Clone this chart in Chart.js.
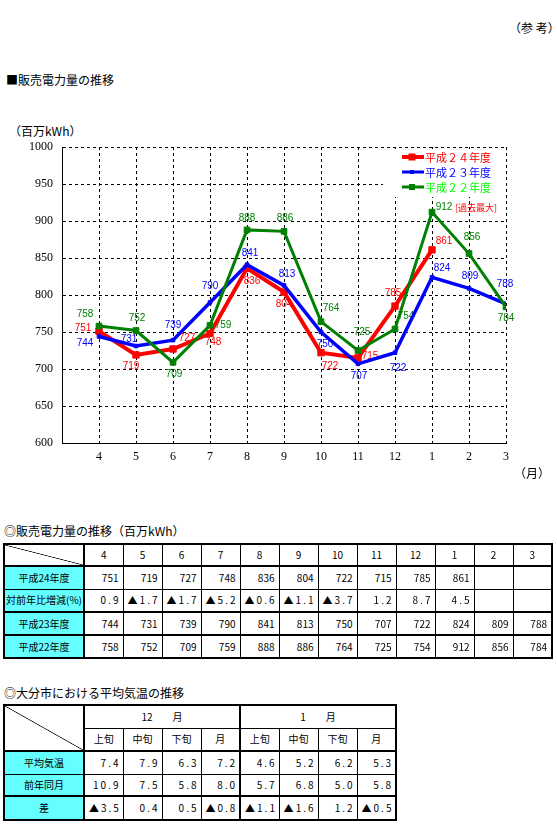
<!DOCTYPE html>
<html lang="ja">
<head>
<meta charset="UTF-8">
<meta name="viewport" content="width=device-width, initial-scale=1.0">
<title>販売電力量の推移</title>
<script src="https://cdn.jsdelivr.net/npm/chart.js"></script>
<style>
    body { margin: 0; background: #fff; }
    #page { position: relative; width: 557px; height: 830px; overflow: hidden; font-family: "Noto Sans CJK JP", sans-serif; color: #000; }
    .txt { position: absolute; font-size: 12px; line-height: 14px; white-space: nowrap; }
    #chartBox { position: absolute; left: 0; top: 120px; }
    table { position: absolute; left: 3px; border-collapse: collapse; table-layout: fixed; font-size: 10px; border: 2px solid #000; }
    td { border: 1px solid #000; padding: 0 4px 0 2px; text-align: right; white-space: nowrap; overflow: hidden; line-height: 12px; }
    td.lbl { background: #66ffff; text-align: center; padding: 0; border-right: 2px solid #000; }
    td.hd { text-align: center; padding: 0; }
    td.diag { padding: 0; border-right: 2px solid #000;
        background: linear-gradient(to top right, transparent calc(50% - 0.7px), #000 50%, transparent calc(50% + 0.7px)); }
    td.sep { border-right: 2px solid #000; }
    .tri { float: left; padding-left: 2px; }
    .dec { letter-spacing: 2px; padding-right: 2px; }
    tr.thick td { border-top: 2px solid #000; }
</style>
</head>
<body>
<div id="page">
    <div class="txt" style="left:509px; top:21px;">（参 考）</div>
    <div class="txt" style="left:6px; top:73px;">■販売電力量の推移</div>
    <div class="txt" style="left:9px; top:124px;">（百万kWh）</div>
    <canvas id="salesChart" width="557" height="370" style="position:absolute; left:0; top:120px;"></canvas>
    <div class="txt" style="left:514px; top:466px;">（月）</div>

    <div class="txt" style="left:4px; top:524px;">◎販売電力量の推移（百万kWh）</div>
    <table id="t1" style="top:543px; width:548px;"></table>

    <div class="txt" style="left:4px; top:686px;">◎大分市における平均気温の推移</div>
    <table id="t2" style="top:704px; width:392px;"></table>
</div>
<script>
    // months of the fiscal year (April .. March)
    const months = ['4', '5', '6', '7', '8', '9', '10', '11', '12', '1', '2', '3'];

    // sales (million kWh)
    const h24 = [751, 719, 727, 748, 836, 804, 722, 715, 785, 861, null, null];
    const h23 = [744, 731, 739, 790, 841, 813, 750, 707, 722, 824, 809, 788];
    const h22 = [758, 752, 709, 759, 888, 886, 764, 725, 754, 912, 856, 784];
    // year-on-year change (%), negative = ▲
    const yoy = [0.9, -1.7, -1.7, -5.2, -0.6, -1.1, -3.7, 1.2, 8.7, 4.5, null, null];

    // Oita city average temperature
    const tempHeads = ['上旬', '中旬', '下旬', '月', '上旬', '中旬', '下旬', '月'];
    const avgTemp = [7.4, 7.9, 6.3, 7.2, 4.6, 5.2, 6.2, 5.3];
    const prevTemp = [10.9, 7.5, 5.8, 8.0, 5.7, 6.8, 5.0, 5.8];
    const diffTemp = [-3.5, 0.4, 0.5, -0.8, -1.1, -1.6, 1.2, -0.5];

    // where each value label sits relative to its point (px)
    const offs24 = [[-16,-3],[-5,11],[14,-11],[3,9],[5,13],[0,12],[9,14],[12,-2],[-2,-13],[12,-9]];
    const offs23 = [[-14,7],[-7,-7],[0,-15],[0,-16],[3,-11],[3,-11],[4,12],[1,12],[3,16],[10,-9],[1,-12],[-1,-20]];
    const offs22 = [[-14,-12],[1,-12],[1,12],[13,0],[0,-12],[1,-13],[10,-13],[4,-18],[11,-13],[12,-5],[3,-16],[0,11]];

    const toPoints = arr => arr.map((v, i) => ({ x: i, y: v }));

    // white legend box drawn inside the plot, plus the "record high" note
    const legendBox = {
        id: 'legendBox',
        beforeDatasetsDraw(chart) {
            const { ctx, chartArea: a } = chart;
            ctx.save();
            ctx.fillStyle = '#fff';
            ctx.fillRect(a.right - 123, a.top + 2, 121, 48);
            const rows = [
                { text: '平成２４年度', line: '#ff0000', text_c: '#ff0000', w: 4, m: 7 },
                { text: '平成２３年度', line: '#0000ff', text_c: '#0000ff', w: 3, m: 4 },
                { text: '平成２２年度', line: '#008000', text_c: '#00ff00', w: 3, m: 6 }
            ];
            const ys = [a.top + 10, a.top + 25, a.top + 40];
            ctx.font = '11px "Noto Sans CJK JP"';
            ctx.textBaseline = 'middle';
            rows.forEach((r, i) => {
                const y = ys[i];
                ctx.strokeStyle = r.line;
                ctx.lineWidth = r.w;
                ctx.beginPath();
                ctx.moveTo(a.right - 104, y);
                ctx.lineTo(a.right - 82, y);
                ctx.stroke();
                ctx.fillStyle = r.line;
                ctx.fillRect(a.right - 94 - r.m / 2, y - r.m / 2, r.m, r.m);
                ctx.fillStyle = r.text_c;
                ctx.fillText(r.text, a.right - 81, y + 1);
            });
            ctx.fillStyle = '#ff0000';
            ctx.font = '9px "Noto Sans CJK JP"';
            ctx.fillText('[過去最大]', a.left + 393, a.top + 61);
            ctx.restore();
        }
    };

    // value labels, drawn under the lines like in the original sheet
    const valueLabels = {
        id: 'valueLabels',
        beforeDatasetsDraw(chart) {
            const ctx = chart.ctx;
            ctx.save();
            ctx.font = '10px "Liberation Sans"';
            ctx.textAlign = 'center';
            ctx.textBaseline = 'middle';
            chart.data.datasets.forEach((ds, di) => {
                const meta = chart.getDatasetMeta(di);
                meta.data.forEach((pt, i) => {
                    const v = ds.data[i].y;
                    if (v == null) return;
                    const o = ds.labelOffsets[i];
                    ctx.fillStyle = ds.borderColor;
                    ctx.fillText(String(v), pt.x + o[0], pt.y + o[1]);
                });
            });
            ctx.restore();
        }
    };

    const gridStyle = { color: '#000', lineWidth: 1, drawTicks: false };
    const borderStyle = { color: '#000', width: 1, dash: [3, 3] };
    const tickFont = { family: 'Liberation Serif', size: 12 };

    new Chart(document.getElementById('salesChart'), {
        type: 'line',
        data: {
            datasets: [
                {
                    label: '平成２２年度', data: toPoints(h22), labelOffsets: offs22,
                    borderColor: '#008000', backgroundColor: '#008000', borderWidth: 3,
                    pointStyle: 'rect', pointRadius: 4, pointBorderWidth: 1, order: 0, tension: 0
                },
                {
                    label: '平成２３年度', data: toPoints(h23), labelOffsets: offs23,
                    borderColor: '#0000ff', backgroundColor: '#0000ff', borderWidth: 3.5,
                    pointStyle: 'rect', pointRadius: 2.5, pointBorderWidth: 1, order: 1, tension: 0
                },
                {
                    label: '平成２４年度', data: toPoints(h24), labelOffsets: offs24,
                    borderColor: '#ff0000', backgroundColor: '#ff0000', borderWidth: 4,
                    pointStyle: 'rect', pointRadius: 4.5, pointBorderWidth: 1, order: 2, tension: 0
                }
            ]
        },
        options: {
            responsive: false,
            animation: false,
            layout: { padding: { top: 27, right: 51, bottom: 17, left: 0 } },
            plugins: { legend: { display: false }, tooltip: { enabled: false } },
            scales: {
                x: {
                    type: 'linear', min: -1, max: 11,
                    afterFit: s => { s.height = 30; },
                    ticks: {
                        stepSize: 1, autoSkip: false, maxRotation: 0, padding: 7,
                        color: '#000', font: tickFont,
                        callback: v => months[v] ?? ''
                    },
                    grid: gridStyle,
                    border: borderStyle
                },
                y: {
                    min: 600, max: 1000,
                    afterFit: s => { s.width = 62; },
                    ticks: { stepSize: 50, padding: 9, color: '#000', font: tickFont, callback: v => String(v) },
                    grid: gridStyle,
                    border: borderStyle
                }
            }
        },
        plugins: [legendBox, valueLabels]
    });

    // ---- tables ----
    function numCell(v, dec, extra) {
        const cls = (dec ? 'dec ' : '') + (extra || '');
        if (v == null) return `<td class="${cls}"></td>`;
        const s = dec ? Math.abs(v).toFixed(1) : String(v);
        if (v < 0) return `<td class="${cls}"><span class="tri">▲</span>${s}</td>`;
        return `<td class="${cls}">${s}</td>`;
    }

    let t1 = '<colgroup><col style="width:80px">' + months.map(() => '<col style="width:39px">').join('') + '</colgroup>';
    t1 += '<tr style="height:22px"><td class="diag"></td>' + months.map(m => `<td class="hd">${m}</td>`).join('') + '</tr>';
    t1 += '<tr class="thick" style="height:23px"><td class="lbl">平成24年度</td>' + h24.map(v => numCell(v, false)).join('') + '</tr>';
    t1 += '<tr style="height:23px"><td class="lbl">対前年比増減(%)</td>' + yoy.map(v => numCell(v, true)).join('') + '</tr>';
    t1 += '<tr class="thick" style="height:23px"><td class="lbl">平成23年度</td>' + h23.map(v => numCell(v, false)).join('') + '</tr>';
    t1 += '<tr class="thick" style="height:23px"><td class="lbl">平成22年度</td>' + h22.map(v => numCell(v, false)).join('') + '</tr>';
    document.getElementById('t1').innerHTML = t1;

    const sepAt = i => (i === 3 ? 'sep' : '');
    let t2 = '<colgroup><col style="width:80px">' + tempHeads.map(() => '<col style="width:39px">').join('') + '</colgroup>';
    t2 += '<tr style="height:23px"><td class="diag" rowspan="2"></td><td class="hd sep" colspan="4">12　　月</td><td class="hd" colspan="4">1　　月</td></tr>';
    t2 += '<tr style="height:23px">' + tempHeads.map((h, i) => `<td class="hd ${sepAt(i)}">${h}</td>`).join('') + '</tr>';
    t2 += '<tr class="thick" style="height:23px"><td class="lbl">平均気温</td>' + avgTemp.map((v, i) => numCell(v, true, sepAt(i))).join('') + '</tr>';
    t2 += '<tr style="height:22px"><td class="lbl">前年同月</td>' + prevTemp.map((v, i) => numCell(v, true, sepAt(i))).join('') + '</tr>';
    t2 += '<tr class="thick" style="height:24px"><td class="lbl">差</td>' + diffTemp.map((v, i) => numCell(v, true, sepAt(i))).join('') + '</tr>';
    document.getElementById('t2').innerHTML = t2;
</script>
</body>
</html>
